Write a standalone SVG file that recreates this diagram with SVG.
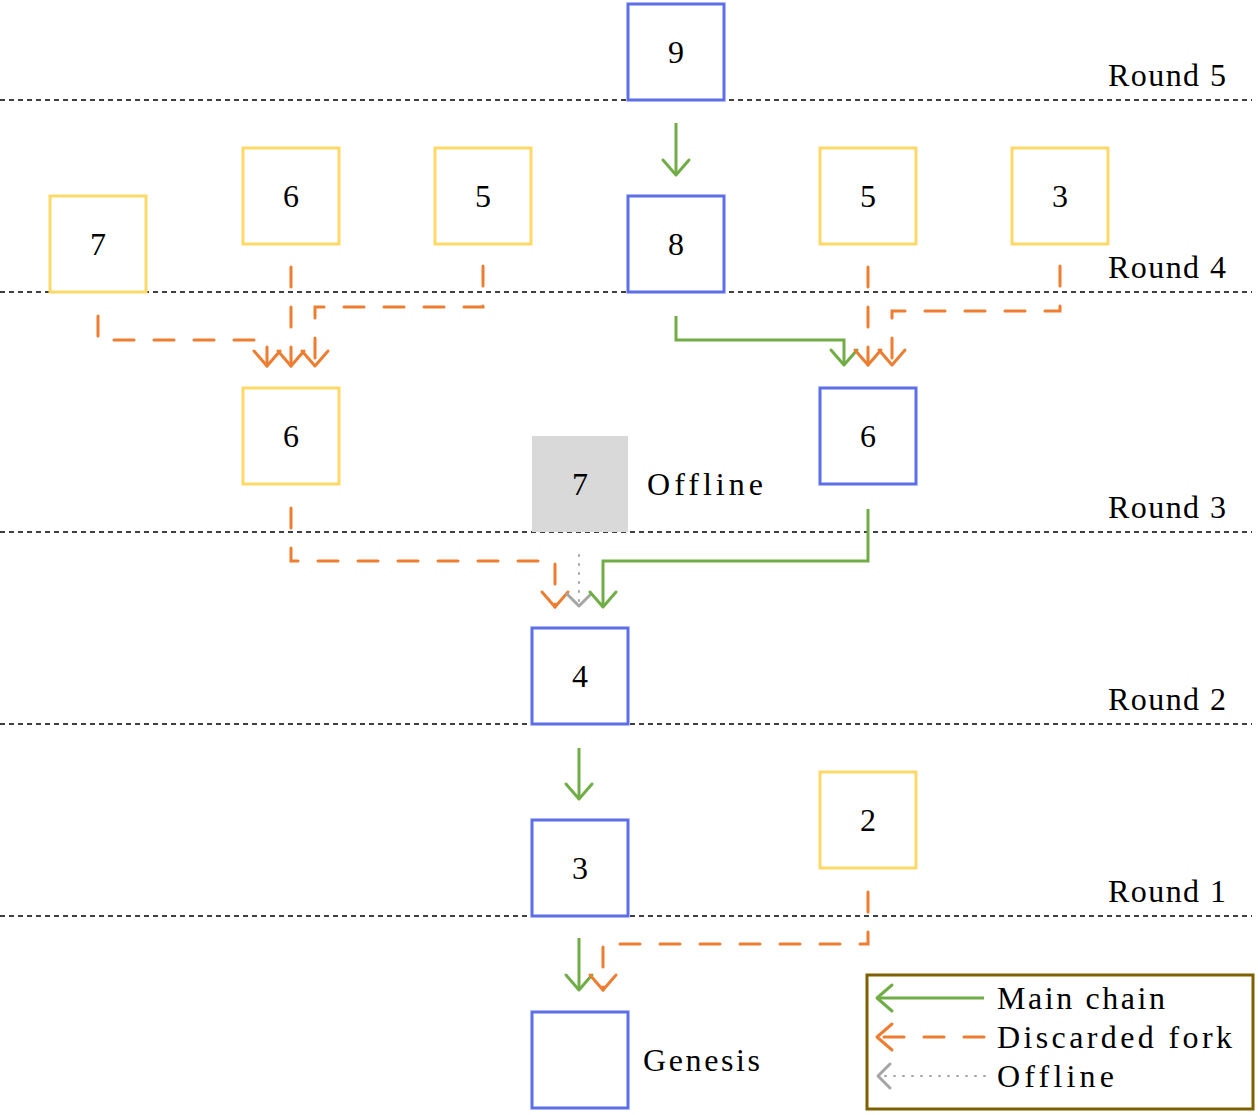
<svg xmlns="http://www.w3.org/2000/svg" width="1258" height="1115" viewBox="0 0 1258 1115">
<style>
.box{fill:#fff;stroke-width:3}
.blue{stroke:#5d6fe8}
.yellow{stroke:#ffd966}
.gray{fill:#d9d9d9;stroke:none}
.t{font-family:"Liberation Serif","DejaVu Serif",serif;font-size:32px;fill:#000}
.c{text-anchor:middle}
.rl{fill:none;stroke:#000;stroke-width:1.5;stroke-dasharray:5 4}
.g{fill:none;stroke:#70ad47;stroke-width:3;marker-end:url(#ag)}
.o{fill:none;stroke:#ed7d31;stroke-width:3;stroke-dasharray:20 20;stroke-linecap:round;marker-end:url(#ao)}
.d{fill:none;stroke:#a5a5a5;stroke-width:2;stroke-dasharray:1 8;stroke-linecap:round;marker-end:url(#ad)}
</style>
<defs>
<marker id="ag" markerUnits="userSpaceOnUse" orient="auto" refX="0" refY="0" markerWidth="40" markerHeight="40" viewBox="-20 -20 40 40" overflow="visible"><path d="M-15,-13 L0,0 L-15,13" fill="none" stroke="#70ad47" stroke-width="3" stroke-linecap="round" stroke-linejoin="round"/></marker>
<marker id="ao" markerUnits="userSpaceOnUse" orient="auto" refX="0" refY="0" markerWidth="40" markerHeight="40" viewBox="-20 -20 40 40" overflow="visible"><path d="M-15,-13 L0,0 L-15,13" fill="none" stroke="#ed7d31" stroke-width="3" stroke-linecap="round" stroke-linejoin="round"/></marker>
<marker id="ad" markerUnits="userSpaceOnUse" orient="auto" refX="0" refY="0" markerWidth="40" markerHeight="40" viewBox="-20 -20 40 40" overflow="visible"><path d="M-12,-12 L0,0 L-12,12" fill="none" stroke="#a5a5a5" stroke-width="3" stroke-linecap="round" stroke-linejoin="round"/></marker>
</defs>
<rect width="1258" height="1115" fill="#fff"/>

<g id="rounds">
<line class="rl" x1="0" y1="100" x2="1252" y2="100"/>
<line class="rl" x1="0" y1="292" x2="1252" y2="292"/>
<line class="rl" x1="0" y1="532" x2="1252" y2="532"/>
<line class="rl" x1="0" y1="724" x2="1252" y2="724"/>
<line class="rl" x1="0" y1="916" x2="1252" y2="916"/>
<text class="t" x="1108" y="86" textLength="118" lengthAdjust="spacing">Round 5</text>
<text class="t" x="1108" y="278" textLength="118" lengthAdjust="spacing">Round 4</text>
<text class="t" x="1108" y="518" textLength="118" lengthAdjust="spacing">Round 3</text>
<text class="t" x="1108" y="710" textLength="118" lengthAdjust="spacing">Round 2</text>
<text class="t" x="1108" y="902" textLength="118" lengthAdjust="spacing">Round 1</text>
</g>

<g id="n9"><rect class="box blue" x="628" y="4" width="96" height="96"/><text class="t c" x="676" y="63">9</text></g>
<g id="n8"><rect class="box blue" x="628" y="196" width="96" height="96"/><text class="t c" x="676" y="255">8</text></g>
<g id="n7a"><rect class="box yellow" x="50" y="196" width="96" height="96"/><text class="t c" x="98" y="255">7</text></g>
<g id="n6a"><rect class="box yellow" x="243" y="148" width="96" height="96"/><text class="t c" x="291" y="207">6</text></g>
<g id="n5a"><rect class="box yellow" x="435" y="148" width="96" height="96"/><text class="t c" x="483" y="207">5</text></g>
<g id="n5b"><rect class="box yellow" x="820" y="148" width="96" height="96"/><text class="t c" x="868" y="207">5</text></g>
<g id="n3a"><rect class="box yellow" x="1012" y="148" width="96" height="96"/><text class="t c" x="1060" y="207">3</text></g>
<g id="n6b"><rect class="box yellow" x="243" y="388" width="96" height="96"/><text class="t c" x="291" y="447">6</text></g>
<g id="n6c"><rect class="box blue" x="820" y="388" width="96" height="96"/><text class="t c" x="868" y="447">6</text></g>
<g id="n7b"><rect class="gray" x="532" y="436" width="96" height="96"/><text class="t c" x="580" y="495">7</text><text class="t" x="647" y="495" textLength="116" lengthAdjust="spacing">Offline</text></g>
<g id="n4"><rect class="box blue" x="532" y="628" width="96" height="96"/><text class="t c" x="580" y="687">4</text></g>
<g id="n3b"><rect class="box blue" x="532" y="820" width="96" height="96"/><text class="t c" x="580" y="879">3</text></g>
<g id="n2"><rect class="box yellow" x="820" y="772" width="96" height="96"/><text class="t c" x="868" y="831">2</text></g>
<g id="genesis"><rect class="box blue" x="532" y="1012" width="96" height="96"/><text class="t" x="643" y="1071" textLength="117" lengthAdjust="spacing">Genesis</text></g>

<g id="connectors">
<path class="g" d="M676,123 V175"/>
<path class="g" d="M676,316 V340 H844 V365"/>
<path class="o" d="M868,267 V365"/>
<path class="o" d="M1060,266 V311 H892 V365"/>
<path class="o" d="M98,316 V340 H267 V366"/>
<path class="o" d="M291,267 V366"/>
<path class="o" d="M483,266 V307 H315 V366"/>
<path class="o" d="M291,508 V561 H555 V607"/>
<path class="d" d="M579,555 V606"/>
<path class="g" d="M868,509 V561 H603 V607"/>
<path class="g" d="M579,748 V799"/>
<path class="g" d="M579,938 V990"/>
<path class="o" d="M868,892 V944 H603 V990"/>
</g>

<g id="legend">
<rect x="867" y="975" width="386" height="134" fill="#fff" stroke="#7f6000" stroke-width="3"/>
<path class="g" d="M984,998 H877"/>
<path class="o" d="M984,1037 H877"/>
<path class="d" d="M985,1076 H878"/>
<text class="t" x="997" y="1009" textLength="168" lengthAdjust="spacing">Main chain</text>
<text class="t" x="997" y="1048" textLength="235" lengthAdjust="spacing">Discarded fork</text>
<text class="t" x="997" y="1087" textLength="117" lengthAdjust="spacing">Offline</text>
</g>
</svg>
